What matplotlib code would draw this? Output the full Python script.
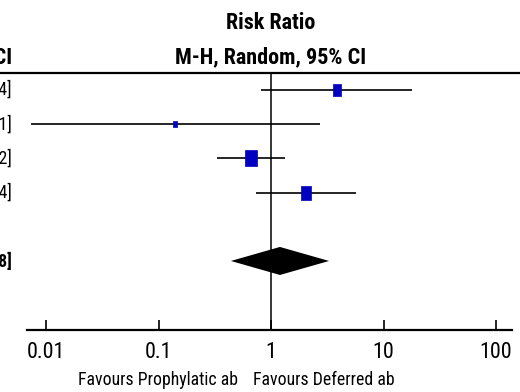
import matplotlib
matplotlib.use("Agg")
import matplotlib.pyplot as plt
from matplotlib import font_manager as fm
import numpy as np

# ---- data ----
studies_ci_text = ["3.86 [0.82, 17.94]", "0.14 [0.01, 2.71]", "0.66 [0.33, 1.32]", "2.05 [0.74, 5.74]"]
total_ci_text = "1.20 [0.44, 3.28]"
rr = [3.86, 0.14, 0.66, 2.05]
ci_low = [0.82, 0.0074, 0.33, 0.74]
ci_high = [17.94, 2.71, 1.32, 5.74]
weights = [21.1, 3.7, 42.3, 32.9]
total_rr = 1.20
total_low = 0.44
total_high = 3.28
tick_values = [0.01, 0.1, 1, 10, 100]
tick_labels = ["0.01", "0.1", "1", "10", "100"]
header1 = "Risk Ratio"
header2 = "M-H, Random, 95% CI"
favours_left = "Favours Prophylatic ab"
favours_right = "Favours Deferred ab"

names = {f.name for f in fm.fontManager.ttflist}
FAM = "DejaVu Sans"
for cand in ["Liberation Sans Narrow", "DejaVu Sans Condensed", "Roboto Condensed",
             "Open Sans Condensed", "Noto Sans Condensed", "Arial Narrow"]:
    if cand in names:
        FAM = cand
        break
plt.rcParams["font.family"] = [FAM, "DejaVu Sans"]

W, H = 520, 392
fig = plt.figure(figsize=(W / 100, H / 100), dpi=100)
renderer = fig.canvas.get_renderer()

def fx(px):
    return px / W

def fy(py):
    return 1 - py / H

def fit_size(text, target_w, weight="normal"):
    t = fig.text(0, 0, text, fontsize=10, fontweight=weight)
    w = t.get_window_extent(renderer).width
    t.remove()
    return 10 * target_w / w

s_head = fit_size(header2, 191, "bold")
s_tick = fit_size("0.01", 38)
s_lab = fit_size(favours_left, 160)

ax_left, ax_right, ax_top, ax_bottom = 27, 512, 73, 330
ax = fig.add_axes([fx(ax_left), fy(ax_bottom), fx(ax_right - ax_left), (ax_bottom - ax_top) / H])
ax.set_xscale("log")
ax.set_xlim(10 ** -2.169, 10 ** 2.142)
ax.set_ylim(7.02, -0.5)
for s in ["top", "left", "right"]:
    ax.spines[s].set_visible(False)
ax.spines["bottom"].set_linewidth(1.6)
ax.set_yticks([])
ax.set_xticks(tick_values)
ax.set_xticklabels(tick_labels)
ax.minorticks_off()
ax.tick_params(axis="x", direction="in", length=7.5, width=1.2, pad=9, labelsize=s_tick)
ax.patch.set_visible(False)

ax.axvline(1, color="black", lw=1.1, zorder=1)

blue = "#0000c0"
rect = [(-0.33, -0.5), (0.33, -0.5), (0.33, 0.5), (-0.33, 0.5), (-0.33, -0.5)]
for i in range(len(rr)):
    ax.plot([ci_low[i], ci_high[i]], [i, i], color="black", lw=1.2, zorder=2, solid_capstyle="butt")
    ms = 2.61 * np.sqrt(weights[i]) * 72 / 100
    ax.plot(rr[i], i, marker=rect, ms=ms, color=blue, mec=blue, mew=0.5, zorder=3, linestyle="none")

ty = 5
ax.fill([total_low, total_rr, total_high, total_rr], [ty, ty - 0.41, ty, ty + 0.41], color="black", zorder=3, lw=0)

fig.add_artist(plt.Line2D([0, 1], [fy(73), fy(73)], color="black", lw=1.6))

fig.text(fx(271), fy(23), header1, ha="center", va="center", fontsize=s_head, fontweight="bold")
fig.text(fx(271), fy(57), header2, ha="center", va="center", fontsize=s_head, fontweight="bold")
fig.text(fx(12), fy(57), header2, ha="right", va="center", fontsize=s_head, fontweight="bold")

row_y = [90, 125, 159, 193]
for i, t in enumerate(studies_ci_text):
    fig.text(fx(12), fy(row_y[i]), t, ha="right", va="center", fontsize=s_lab)
fig.text(fx(12), fy(261), total_ci_text, ha="right", va="center", fontsize=s_lab, fontweight="bold")

fig.text(fx(238), fy(380), favours_left, ha="right", va="center", fontsize=s_lab)
fig.text(fx(253), fy(380), favours_right, ha="left", va="center", fontsize=s_lab)

fig.savefig("out.png", dpi=100)
